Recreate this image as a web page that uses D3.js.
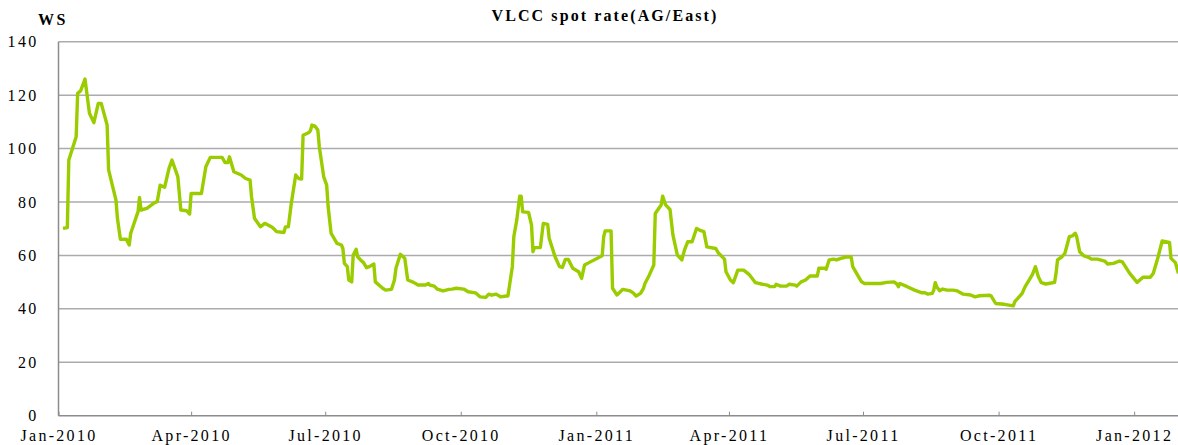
<!DOCTYPE html>
<html lang="en">
<head>
    <meta charset="UTF-8">
    <script src="https://d3js.org/d3.v7.min.js"></script>
    <title>VLCC spot rate(AG/East)</title>
    <style>
        body { margin: 0; background: #fff; }
        svg text { font-family: "Liberation Serif", "Times New Roman", serif; fill: #000; }
        .grid line { stroke: #ababab; stroke-width: 1.5; }
        .xAxis path, .yAxis path { stroke: #8c8c8c; stroke-width: 1.5; fill: none; }
        .xAxis line { stroke: #8c8c8c; }
        .xAxis text, .yAxis text { font-size: 16px; letter-spacing: 2.3px; }
    </style>
</head>
<body>
<script>
    // weekly-ish readings of the spot rate, Worldscale points
    var dates = [
        "2010-01-04","2010-01-07","2010-01-08","2010-01-13","2010-01-14","2010-01-16","2010-01-19","2010-01-22","2010-01-25","2010-01-28",
        "2010-01-30","2010-02-03","2010-02-04","2010-02-09","2010-02-10","2010-02-12","2010-02-16","2010-02-18","2010-02-19","2010-02-24",
        "2010-02-25","2010-02-26","2010-03-02","2010-03-07","2010-03-09","2010-03-11","2010-03-14","2010-03-17","2010-03-19","2010-03-23",
        "2010-03-25","2010-03-29","2010-03-31","2010-04-01","2010-04-08","2010-04-11","2010-04-14","2010-04-22","2010-04-24","2010-04-26",
        "2010-04-27","2010-04-30","2010-05-05","2010-05-08","2010-05-11","2010-05-12","2010-05-14","2010-05-18","2010-05-21","2010-05-26",
        "2010-05-28","2010-05-29","2010-06-03","2010-06-04","2010-06-06","2010-06-08","2010-06-11","2010-06-13","2010-06-15","2010-06-16",
        "2010-06-20","2010-06-21","2010-06-22","2010-06-24","2010-06-26","2010-06-27","2010-06-30","2010-07-02","2010-07-03","2010-07-05",
        "2010-07-09","2010-07-12","2010-07-13","2010-07-14","2010-07-16","2010-07-17","2010-07-19","2010-07-20","2010-07-22","2010-07-23",
        "2010-07-25","2010-07-27","2010-07-29","2010-07-31","2010-08-03","2010-08-04","2010-08-09","2010-08-11","2010-08-15","2010-08-17",
        "2010-08-18","2010-08-21","2010-08-24","2010-08-26","2010-08-30","2010-09-02","2010-09-07","2010-09-09","2010-09-10","2010-09-13",
        "2010-09-15","2010-09-19","2010-09-23","2010-09-25","2010-09-28","2010-10-03","2010-10-06","2010-10-11","2010-10-14","2010-10-18",
        "2010-10-20","2010-10-22","2010-10-25","2010-10-28","2010-11-01","2010-11-02","2010-11-05","2010-11-06","2010-11-08","2010-11-10",
        "2010-11-11","2010-11-12","2010-11-16","2010-11-18","2010-11-19","2010-11-20","2010-11-24","2010-11-26","2010-11-29","2010-11-30",
        "2010-12-04","2010-12-07","2010-12-09","2010-12-11","2010-12-13","2010-12-16","2010-12-20","2010-12-22","2010-12-24","2010-12-27",
        "2011-01-05","2011-01-06","2011-01-07","2011-01-11","2011-01-12","2011-01-15","2011-01-19","2011-01-24","2011-01-26","2011-01-28",
        "2011-01-31","2011-02-02","2011-02-03","2011-02-06","2011-02-09","2011-02-10","2011-02-14","2011-02-15","2011-02-17","2011-02-20",
        "2011-02-22","2011-02-25","2011-02-28","2011-03-02","2011-03-04","2011-03-07","2011-03-10","2011-03-12","2011-03-15","2011-03-17",
        "2011-03-23","2011-03-25","2011-03-29","2011-03-30","2011-04-02","2011-04-04","2011-04-07","2011-04-11","2011-04-15","2011-04-19",
        "2011-04-23","2011-04-27","2011-04-29","2011-05-02","2011-05-03","2011-05-06","2011-05-10","2011-05-12","2011-05-16","2011-05-17",
        "2011-05-20","2011-05-23","2011-05-26","2011-05-31","2011-06-01","2011-06-05","2011-06-06","2011-06-08","2011-06-11","2011-06-13",
        "2011-06-16","2011-06-20","2011-06-23","2011-06-24","2011-06-28","2011-06-30","2011-07-02","2011-07-13","2011-07-17","2011-07-22",
        "2011-07-24","2011-07-25","2011-07-26","2011-07-31","2011-08-05","2011-08-10","2011-08-12","2011-08-14","2011-08-17","2011-08-18",
        "2011-08-19","2011-08-20","2011-08-22","2011-08-24","2011-08-27","2011-08-31","2011-09-03","2011-09-07","2011-09-12","2011-09-15",
        "2011-09-18","2011-09-25","2011-09-26","2011-09-29","2011-10-05","2011-10-11","2011-10-12","2011-10-14","2011-10-17","2011-10-19",
        "2011-10-22","2011-10-24","2011-10-26","2011-10-28","2011-10-30","2011-11-02","2011-11-04","2011-11-08","2011-11-09","2011-11-10",
        "2011-11-13","2011-11-15","2011-11-18","2011-11-20","2011-11-22","2011-11-23","2011-11-25","2011-11-28","2011-12-01","2011-12-03",
        "2011-12-07","2011-12-12","2011-12-14","2011-12-18","2011-12-22","2011-12-24","2011-12-29","2012-01-03","2012-01-07","2012-01-12",
        "2012-01-14","2012-01-17","2012-01-20","2012-01-25","2012-01-26","2012-01-29","2012-01-31"
    ]
    var rates = [
        70.1, 70.4, 95.7, 104.4, 120.7, 121.6, 126, 113.2, 109.7, 116.9,
        116.9, 108.8, 92, 80.7, 73.9, 66, 66.1, 63.9, 68.3, 76.4,
        81.7, 77, 77.6, 79.7, 80.1, 86.3, 85.5, 92.6, 95.7, 89.4,
        77, 76.7, 75.5, 83.2, 83.2, 93.2, 96.7, 96.7, 94.8, 94.8,
        96.9, 91.3, 90.1, 88.8, 88.2, 82, 73.9, 70.7, 72, 70.5,
        69.5, 68.9, 68.6, 70.7, 70.7, 79.5, 90.1, 88.8, 88.6, 105,
        106, 106.7, 108.8, 108.4, 106.9, 100.7, 89.4, 86.3, 78.2, 68.3,
        64.5, 63.9, 62.6, 57, 55.8, 50.8, 50.1, 60.1, 62.3, 59.5,
        58.3, 57.3, 55.4, 55.8, 56.8, 50.1, 47.7, 47, 47.3, 50.8,
        55.2, 60.4, 58.9, 50.8, 49.9, 48.9, 48.9, 49.5, 48.9, 48.5,
        47.4, 46.7, 47.3, 47.4, 47.7, 47.4, 46.4, 46, 44.5, 44.3,
        45.5, 45.1, 45.5, 44.5, 44.8, 44.8, 55.8, 67, 73.2, 82.2,
        82.2, 76.3, 76.1, 71.4, 61.4, 62.9, 62.9, 72, 71.6, 66.4,
        59.5, 55.8, 55.5, 58.5, 58.5, 55.2, 53.9, 51.4, 56.4, 57.3,
        59.9, 67, 69.2, 69.2, 47.7, 45.2, 47.3, 46.7, 46, 44.8,
        45.8, 47.7, 49.5, 52.7, 56.4, 75.7, 78.9, 82.2, 78.9, 77.2,
        67.6, 60.1, 58.3, 62.3, 65.1, 65.1, 70.1, 69.5, 68.9, 63.2,
        62.6, 60.8, 58.6, 53.9, 50.8, 49.8, 54.5, 54.5, 52.7, 49.8,
        49.3, 48.9, 48.3, 48.3, 49.2, 48.5, 48.5, 49.2, 48.9, 48.5,
        50.1, 50.8, 52.3, 52.3, 55.2, 55.2, 54.8, 58.3, 58.6, 58.3,
        58.9, 59.5, 59.3, 55.8, 52, 50.1, 49.5, 49.5, 49.9, 50.1,
        49.3, 48.3, 49.5, 48.3, 47, 46, 46, 45.5, 45.8, 47,
        49.8, 48.3, 46.8, 47.4, 47, 47, 46.7, 45.5, 45.2, 44.5,
        44.9, 45.1, 44.8, 42, 41.7, 41.1, 42.7, 43.9, 45.8, 48.3,
        51, 52.9, 55.8, 52, 49.8, 49.3, 49.5, 49.9, 53.3, 58.3,
        59.5, 60.8, 67, 67.3, 68.3, 67, 61.4, 59.8, 59.3, 58.6,
        58.6, 57.9, 56.8, 57, 57.9, 57.6, 53.3, 49.9, 51.8, 51.8,
        53.3, 58.9, 65.4, 64.9, 58.9, 57.3, 53.3
    ]
    var yTicks = [0, 20, 40, 60, 80, 100, 120, 140]
    var xTickDates = ["2010-01-01","2010-04-01","2010-07-01","2010-10-01","2011-01-01",
                      "2011-04-01","2011-07-01","2011-10-01","2012-01-01"]

    var width = 1178
    var height = 445
    var padding = { top: 41.7, right: 0, bottom: 29.3, left: 58.5 }
    var parse = d3.utcParse("%Y-%m-%d")

    var data = dates.map(function (d, i) { return { date: parse(d), rate: rates[i] } })

    var svg = d3.select("body").append("svg")
            .attr("width", width)
            .attr("height", height)

    var xScale = d3.scaleUtc()
            .domain([parse("2010-01-01"), parse("2012-01-31")])
            .range([padding.left, padding.left + 760 * 1.4735])

    var yScale = d3.scaleLinear()
            .domain([0, 140])
            .range([height - padding.bottom, padding.top])

    // horizontal grid
    svg.append("g").attr("class", "grid")
        .selectAll("line")
        .data(yTicks.filter(function (d) { return d > 0 }))
        .enter().append("line")
        .attr("x1", padding.left)
        .attr("x2", width)
        .attr("y1", function (d) { return yScale(d) })
        .attr("y2", function (d) { return yScale(d) })

    var yAxis = d3.axisLeft(yScale)
            .tickValues(yTicks)
            .tickSize(0)
            .tickPadding(20)
            .tickFormat(d3.format("d"))

    svg.append("g")
        .attr("class", "yAxis")
        .attr("transform", "translate(" + padding.left + ",0)")
        .call(yAxis)
        .call(function (g) { g.select(".domain").attr("d", "M0," + padding.top + "V" + (height - padding.bottom)) })

    var xAxis = d3.axisBottom(xScale)
            .tickValues(xTickDates.map(parse))
            .tickSize(-4)
            .tickSizeOuter(0)
            .tickPadding(14)
            .tickFormat(d3.utcFormat("%b-%Y"))

    svg.append("g")
        .attr("class", "xAxis")
        .attr("transform", "translate(0," + (height - padding.bottom) + ")")
        .call(xAxis)
        .call(function (g) { g.select(".domain").attr("d", "M" + padding.left + ",0H" + width) })

    var line = d3.line()
            .x(function (d) { return xScale(d.date) })
            .y(function (d) { return yScale(d.rate) })

    svg.append("path")
        .datum(data)
        .attr("fill", "none")
        .attr("stroke", "#9acc00")
        .attr("stroke-width", 3.4)
        .attr("stroke-linejoin", "round")
        .attr("d", line)

    svg.append("text")
        .attr("x", 605)
        .attr("y", 21)
        .attr("text-anchor", "middle")
        .style("font-size", "16px")
        .style("font-weight", "bold")
        .style("letter-spacing", "2.1px")
        .text("VLCC spot rate(AG/East)")

    svg.append("text")
        .attr("x", 38)
        .attr("y", 25)
        .style("font-size", "16px")
        .style("font-weight", "bold")
        .style("letter-spacing", "2.5px")
        .text("WS")
</script>
</body>
</html>
